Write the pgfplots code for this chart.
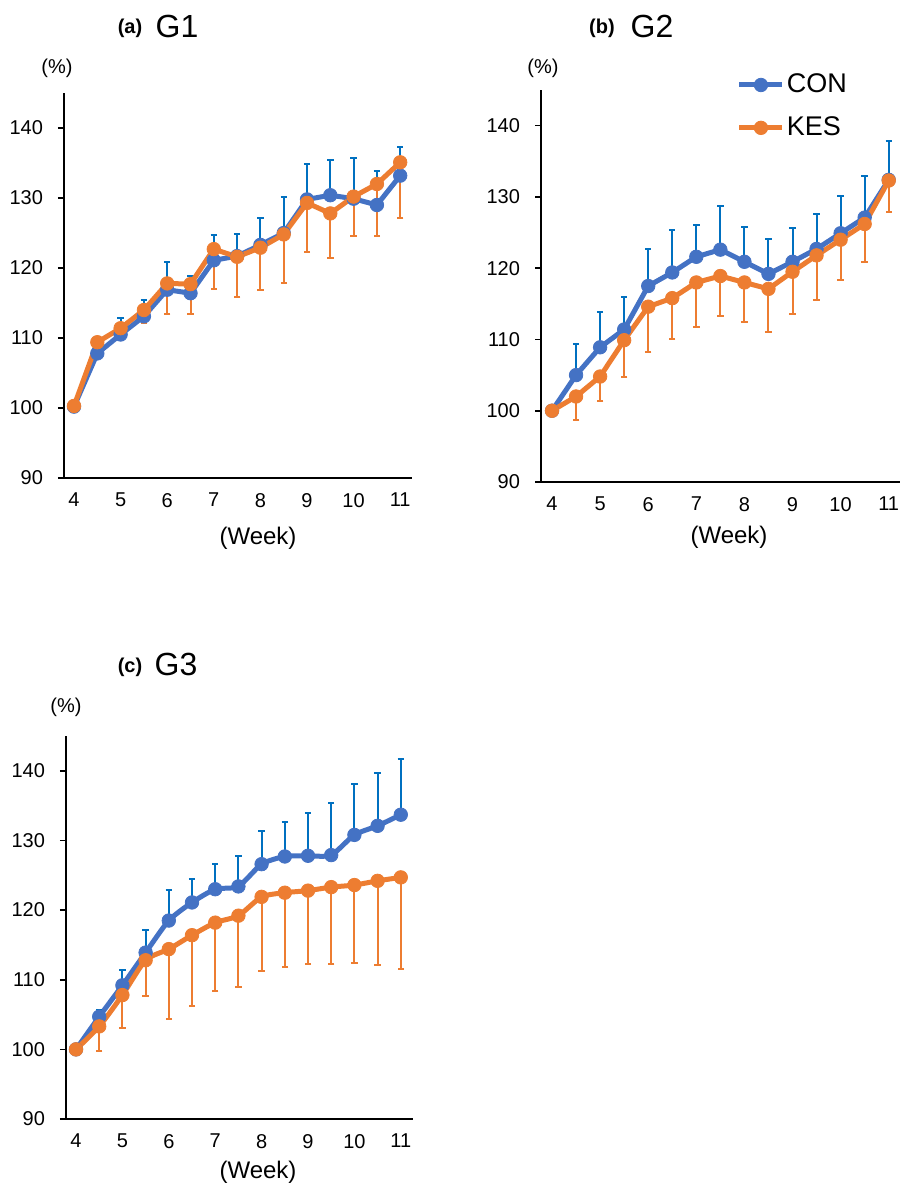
\documentclass[border=0pt]{standalone}
\usepackage{pgfplots}
\usepackage{pgfplotstable}
\pgfplotsset{compat=1.18}
\usepackage{fontspec}
\setmainfont{Liberation Sans}
\definecolor{conline}{HTML}{4472C4}
\definecolor{conbar}{HTML}{0070C0}
\definecolor{kesline}{HTML}{ED7D31}

% x  con  contop  kes  kesbot
\pgfplotstableread{
x    con   contop kes   kesbot
4    100.2 100.2  100.3 100.3
4.5  107.8 110.2  109.4 108.9
5    110.5 112.9  111.4 109.9
5.5  113.1 115.4  114.0 112.1
6    116.9 120.9  117.8 113.4
6.5  116.4 118.9  117.7 113.4
7    121.1 124.7  122.7 117.0
7.5  121.7 124.8  121.6 115.9
8    123.3 127.1  122.9 116.8
8.5  125.0 130.2  124.8 117.9
9    129.8 134.9  129.3 122.3
9.5  130.4 135.4  127.8 121.5
10   129.9 135.7  130.2 124.6
10.5 129.0 133.9  132.0 124.6
11   133.2 137.3  135.1 127.1
}\GA
\pgfplotstableread{
x    con   contop kes   kesbot
4    100.0 100.0  100.0 100.0
4.5  105.0 109.3  102.0 98.7
5    108.9 113.8  104.8 101.3
5.5  111.4 115.9  109.9 104.7
6    117.5 122.7  114.6 108.3
6.5  119.4 125.3  115.8 110.1
7    121.6 126.0  118.0 111.8
7.5  122.6 128.7  118.9 113.3
8    120.9 125.8  118.0 112.4
8.5  119.2 124.1  117.1 111.1
9    120.9 125.6  119.5 113.6
9.5  122.7 127.6  121.8 115.6
10   124.9 130.1  124.0 118.4
10.5 127.1 132.9  126.2 120.9
11   132.4 137.9  132.3 127.9
}\GB
\pgfplotstableread{
x    con   contop kes   kesbot
4    100.0 100.0  100.0 100.0
4.5  104.7 105.7  103.3 99.7
5    109.2 111.4  107.8 103.0
5.5  113.9 117.1  112.8 107.6
6    118.5 122.9  114.4 104.3
6.5  121.1 124.4  116.4 106.2
7    123.0 126.6  118.2 108.4
7.5  123.4 127.8  119.2 108.9
8    126.6 131.4  121.9 111.3
8.5  127.7 132.6  122.5 111.9
9    127.8 134.0  122.8 112.2
9.5  127.9 135.4  123.3 112.2
10   130.8 138.1  123.6 112.4
10.5 132.1 139.7  124.2 112.1
11   133.7 141.7  124.7 111.6
}\GC

\pgfplotsset{
  panel/.style={
    scale only axis,
    axis x line*=bottom, axis y line*=left,
    axis line style={-, line width=0.8pt, black},
    ymin=90, ymax=145,
    ytick={90,100,...,140},
    xtick={4,...,11},
    tick align=outside,
    major tick length=3pt,
    ytick style={line width=0.8pt, black},
    xtick style={draw=none},
    /pgf/number format/assume math mode=true,
    tick label style={font=\fontsize{10}{12}\selectfont},
    xticklabel style={yshift=-1pt},
    yticklabel style={xshift=-4pt},
    clip=false,
  },
  conplot/.style={color=conline, line width=2.5pt, mark=*,
    mark options={scale=1.35, fill=conline, draw=conline, line width=0.4pt},
    error bars/.cd, y dir=plus, y explicit,
    error bar style={color=conbar, line width=1pt},
    error mark options={rotate=90, color=conbar, mark size=1.6pt, line width=1pt}},
  kesplot/.style={color=kesline, line width=2.5pt, mark=*,
    mark options={scale=1.35, fill=kesline, draw=kesline, line width=0.4pt},
    error bars/.cd, y dir=minus, y explicit,
    error bar style={color=kesline, line width=1pt},
    error mark options={rotate=90, color=kesline, mark size=1.6pt, line width=1pt}},
}

\begin{document}
\begin{tikzpicture}
\path[use as bounding box] (0pt,0pt) rectangle (450pt,-592pt);

% ---------------- (a) G1
\begin{axis}[panel, at={(32pt,-239pt)}, anchor=south west,
  width=174pt, height=192.5pt, xmin=3.785, xmax=11.253]
\addplot[mark size=2.5pt, conplot] table[x=x, y=con, y error expr=\thisrow{contop}-\thisrow{con}] {\GA};
\addplot[mark size=2.5pt, kesplot] table[x=x, y=kes, y error expr=\thisrow{kes}-\thisrow{kesbot}] {\GA};
\end{axis}
\node[font=\bfseries\fontsize{10}{12}\selectfont] at (65pt,-14pt) {(a)};
\node[font=\fontsize{16}{18}\selectfont] at (88.5pt,-13pt) {G1};
\node[font=\fontsize{10}{12}\selectfont] at (28.5pt,-34pt) {(\%)};
\node[font=\fontsize{12}{14}\selectfont] at (129pt,-269pt) {(Week)};

% ---------------- (b) G2
\begin{axis}[panel, at={(270.5pt,-241pt)}, anchor=south west,
  width=179.5pt, height=196pt, xmin=3.771, xmax=11.235,
  legend style={at={(0.528,1.057)}, anchor=north west, draw=none, fill=none,
    font=\fontsize{13.5}{15}\selectfont, row sep=8.5pt,
    nodes={inner sep=1pt}},
  legend cell align=left,
  legend image code/.code={\draw[mark repeat=2, mark phase=2, #1]
     plot coordinates {(0pt,0pt) (10.75pt,0pt) (21.5pt,0pt)};}]
\addplot[mark size=2.5pt, conplot] table[x=x, y=con, y error expr=\thisrow{contop}-\thisrow{con}] {\GB};
\addlegendentry{CON}
\addplot[mark size=2.5pt, kesplot] table[x=x, y=kes, y error expr=\thisrow{kes}-\thisrow{kesbot}] {\GB};
\addlegendentry{KES}
\end{axis}
\node[font=\bfseries\fontsize{10}{12}\selectfont] at (301pt,-14pt) {(b)};
\node[font=\fontsize{16}{18}\selectfont] at (326pt,-13pt) {G2};
\node[font=\fontsize{10}{12}\selectfont] at (271.5pt,-34pt) {(\%)};
\node[font=\fontsize{12}{14}\selectfont] at (364.5pt,-268.5pt) {(Week)};

% ---------------- (c) G3
\begin{axis}[panel, at={(33pt,-559.5pt)}, anchor=south west,
  width=173.5pt, height=191.5pt, xmin=3.784, xmax=11.263]
\addplot[smooth, tension=0.4, mark size=2.5pt, conplot] table[x=x, y=con, y error expr=\thisrow{contop}-\thisrow{con}] {\GC};
\addplot[smooth, tension=0.4, mark size=2.5pt, kesplot] table[x=x, y=kes, y error expr=\thisrow{kes}-\thisrow{kesbot}] {\GC};
\end{axis}
\node[font=\bfseries\fontsize{10}{12}\selectfont] at (65pt,-333.5pt) {(c)};
\node[font=\fontsize{16}{18}\selectfont] at (88pt,-332pt) {G3};
\node[font=\fontsize{10}{12}\selectfont] at (33pt,-353.5pt) {(\%)};
\node[font=\fontsize{12}{14}\selectfont] at (129pt,-586pt) {(Week)};
\end{tikzpicture}
\end{document}
